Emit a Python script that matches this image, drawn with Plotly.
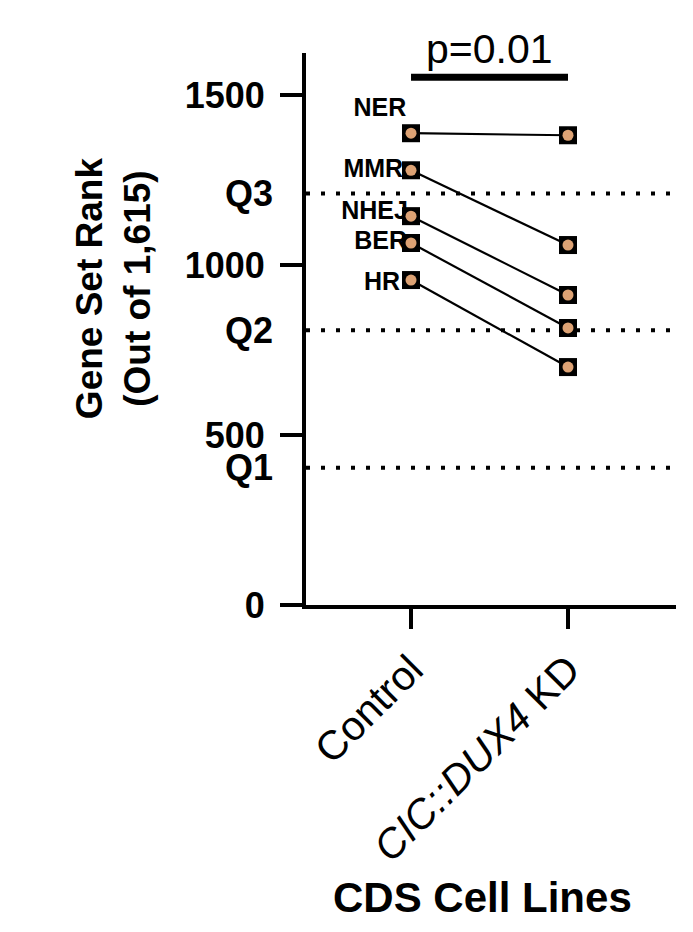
import plotly.graph_objects as go

# ---- data ----
pathways = ["NER", "MMR", "NHEJ", "BER", "HR"]
control_rank = [1388, 1279, 1144, 1065, 956]
kd_rank = [1382, 1059, 912, 815, 700]
group_labels = ["Control", "<i>CIC::DUX4</i> KD"]
quartile_names = ["Q1", "Q2", "Q3"]
quartile_values = [404, 808, 1211]
y_tick_values = [0, 500, 1000, 1500]
p_value_text = "p=0.01"

FONT = "Liberation Sans, Arial, sans-serif"
group_x = [0, 1]

fig = go.Figure()

# pathway labels (drawn first so markers cover them)
label_x = [-0.03, -0.05, -0.02, -0.025, -0.07]
label_dy = [68, 0, 10, 0, -12]
fig.add_trace(go.Scatter(
    x=label_x,
    y=[v + d for v, d in zip(control_rank, label_dy)],
    mode="text", text=[f"<b>{p}</b>" for p in pathways],
    textposition="middle left",
    textfont=dict(family=FONT, size=25, color="black"),
    showlegend=False, hoverinfo="skip",
))

# connecting lines
for name, c, k in zip(pathways, control_rank, kd_rank):
    fig.add_trace(go.Scatter(
        x=group_x, y=[c, k], mode="lines",
        line=dict(color="black", width=2.2),
        showlegend=False, name=name,
    ))

all_x = [group_x[0]] * len(control_rank) + [group_x[1]] * len(kd_rank)
all_y = control_rank + kd_rank
fig.add_trace(go.Scatter(
    x=all_x, y=all_y, mode="markers",
    marker=dict(symbol="square", size=18, color="black", line=dict(width=0)),
    showlegend=False,
))
fig.add_trace(go.Scatter(
    x=all_x, y=all_y, mode="markers",
    marker=dict(symbol="circle", size=11, color="#DDA274", line=dict(width=0)),
    showlegend=False,
))

# quartile dotted lines
for q in quartile_values:
    fig.add_shape(type="line", xref="paper", x0=0, x1=1, yref="y", y0=q, y1=q,
                  line=dict(color="black", width=4, dash="4px,11px"), layer="below")

for name, q in zip(quartile_names, quartile_values):
    fig.add_annotation(xref="paper", x=0, y=q, yref="y", text=f"<b>{name}</b>",
                       showarrow=False, xanchor="right", yanchor="middle", xshift=-31,
                       font=dict(family=FONT, size=36, color="black"))

# significance bar
fig.add_shape(type="line", xref="x", x0=group_x[0], x1=group_x[1], yref="y",
              y0=1553, y1=1553, line=dict(color="black", width=7))
fig.add_annotation(x=0.5, xref="x", y=1553, yref="y", text=p_value_text,
                   showarrow=False, yanchor="bottom", yshift=3,
                   font=dict(family=FONT, size=41, color="black"))

# axis titles
fig.add_annotation(xref="paper", x=0, xshift=-193, yref="paper", y=0.574,
                   text="<b>Gene Set Rank<br>(Out of 1,615)</b>", textangle=-90,
                   showarrow=False, xanchor="center", yanchor="middle",
                   font=dict(family=FONT, size=37, color="black"))
fig.add_annotation(xref="paper", x=0.478, yref="paper", y=-0.53,
                   text="<b>CDS Cell Lines</b>", showarrow=False,
                   xanchor="center", yanchor="middle",
                   font=dict(family=FONT, size=42, color="black"))

fig.update_layout(
    width=685, height=924,
    margin=dict(l=298, r=17, t=45, b=327),
    plot_bgcolor="white", paper_bgcolor="white",
    showlegend=False,
)
fig.update_xaxes(
    range=[-0.669, 1.688], tickvals=group_x, ticktext=group_labels,
    tickangle=-45, ticks="outside", ticklen=20, tickwidth=4, tickcolor="black",
    showline=True, linewidth=4, linecolor="black", showgrid=False, zeroline=False,
    tickfont=dict(family=FONT, size=41, color="black"),
)
fig.update_yaxes(
    range=[0, 1624], tickvals=y_tick_values,
    ticktext=[f"<b>{v}</b>" for v in y_tick_values],
    ticks="outside", ticklen=22, tickwidth=4, tickcolor="black",
    showline=True, linewidth=4, linecolor="black", showgrid=False, zeroline=False,
    tickfont=dict(family=FONT, size=36, color="black"), ticklabelstandoff=8,
)

fig.write_html("out.html")
